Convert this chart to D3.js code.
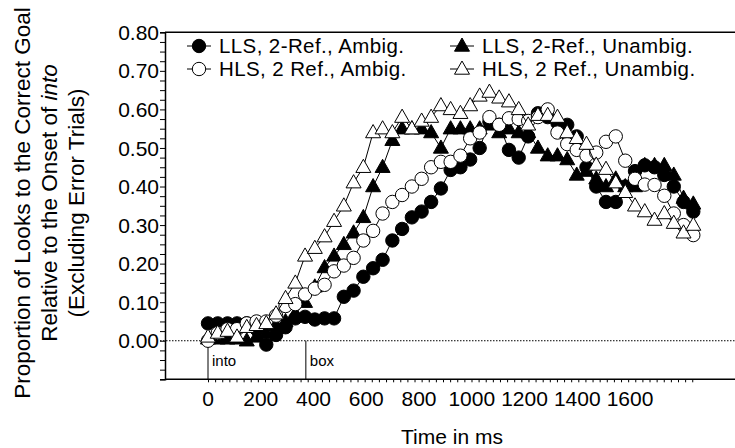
<!DOCTYPE html>
<html>
<head>
<meta charset="utf-8">
<script src="https://cdn.jsdelivr.net/npm/d3@7"></script>
<style>
  body { margin: 0; background: #fff; }
  svg { font-family: "Liberation Sans", Arial, sans-serif; }
</style>
</head>
<body>
<svg width="735" height="448"></svg>
<script>
// time bins (ms)
const times = [0, 37, 74, 110, 147, 184, 221, 258, 294, 331, 368, 405, 442, 478, 515, 552, 589, 626,
    662, 699, 736, 773, 810, 846, 883, 920, 957, 994, 1030, 1067, 1104, 1141, 1178, 1214, 1251, 1288,
    1325, 1362, 1398, 1435, 1472, 1509, 1546, 1582, 1619, 1656, 1693, 1730, 1766, 1803, 1840];

const llsAmbig = [0.045, 0.045, 0.045, 0.045, 0.045, 0.03, -0.01, 0.015, 0.035, 0.058, 0.062, 0.055,
    0.058, 0.058, 0.114, 0.13, 0.166, 0.188, 0.21, 0.26, 0.29, 0.32, 0.335, 0.36, 0.395, 0.443, 0.45,
    0.47, 0.50, 0.568, 0.56, 0.495, 0.475, 0.53, 0.59, 0.58, 0.565, 0.56, 0.53, 0.45, 0.40, 0.36, 0.36,
    0.40, 0.44, 0.455, 0.45, 0.43, 0.40, 0.36, 0.335];

const llsUnambig = [0.005, 0.005, 0.005, 0.005, 0.0, 0.01, 0.02, 0.04, 0.05, 0.07, 0.10, 0.14, 0.19,
    0.22, 0.25, 0.28, 0.32, 0.40, 0.45, 0.52, 0.55, 0.55, 0.55, 0.54, 0.50, 0.55, 0.55, 0.55, 0.55,
    0.56, 0.54, 0.55, 0.54, 0.54, 0.50, 0.48, 0.48, 0.47, 0.43, 0.44, 0.42, 0.40, 0.42, 0.40, 0.40,
    0.455, 0.455, 0.455, 0.43, 0.37, 0.355];

const hlsAmbig = [0.0, 0.02, 0.03, 0.03, 0.045, 0.05, 0.05, 0.065, 0.09, 0.095, 0.12, 0.135, 0.145,
    0.18, 0.195, 0.215, 0.26, 0.285, 0.33, 0.36, 0.378, 0.40, 0.42, 0.45, 0.464, 0.464, 0.48, 0.525,
    0.54, 0.58, 0.56, 0.577, 0.575, 0.57, 0.58, 0.60, 0.54, 0.51, 0.495, 0.48, 0.488, 0.516, 0.53,
    0.467, 0.42, 0.405, 0.404, 0.376, 0.33, 0.30, 0.274];

const hlsUnambig = [0.01, 0.02, 0.025, 0.01, 0.035, 0.04, 0.045, 0.07, 0.11, 0.15, 0.22, 0.24, 0.27,
    0.31, 0.35, 0.41, 0.45, 0.54, 0.55, 0.54, 0.58, 0.55, 0.57, 0.58, 0.61, 0.60, 0.59, 0.61, 0.635,
    0.645, 0.63, 0.62, 0.60, 0.56, 0.585, 0.585, 0.58, 0.54, 0.525, 0.51, 0.456, 0.445, 0.41, 0.385,
    0.35, 0.335, 0.313, 0.33, 0.305, 0.28, 0.30];

const yTicks = [0, 0.1, 0.2, 0.3, 0.4, 0.5, 0.6, 0.7, 0.8];
const xTicks = [0, 200, 400, 600, 800, 1000, 1200, 1400, 1600];
const wordOnsets = [{ t: 0, word: "into" }, { t: 371, word: "box" }];

const series = [
    { name: "LLS, 2-Ref., Ambig.", values: llsAmbig, shape: "circle", fill: "#000" },
    { name: "LLS, 2-Ref., Unambig.", values: llsUnambig, shape: "triangle", fill: "#000" },
    { name: "HLS, 2 Ref., Ambig.", values: hlsAmbig, shape: "circle", fill: "#fff" },
    { name: "HLS, 2 Ref., Unambig.", values: hlsUnambig, shape: "triangle", fill: "#fff" }
];

const svg = d3.select("svg");
const plotLeft = 165, plotTop = 32.3, plotBottom = 379.3, plotRight = 740;

const x = d3.scaleLinear().domain([0, 1600]).range([208, 630]);
const y = d3.scaleLinear().domain([-0.1, 0.8]).range([plotBottom, plotTop]);

const triPath = "M0,-8L7.5,5.2L-7.5,5.2Z";

function drawMarker(sel, s) {
    if (s.shape === "circle") {
        sel.append("circle").attr("r", 6.7);
    } else {
        sel.append("path").attr("d", triPath);
    }
    sel.selectAll("circle,path")
        .attr("fill", s.fill)
        .attr("stroke", "#000")
        .attr("stroke-width", 1);
}

// frame
svg.append("line").attr("x1", plotLeft).attr("x2", plotRight).attr("y1", plotTop).attr("y2", plotTop)
    .attr("stroke", "#000").attr("stroke-width", 1.5);

// zero reference line
svg.append("line").attr("x1", plotLeft - 5).attr("x2", plotRight).attr("y1", y(0)).attr("y2", y(0))
    .attr("stroke", "#000").attr("stroke-width", 1).attr("stroke-dasharray", "1.5,1.5");

// word onset markers
wordOnsets.forEach(w => {
    svg.append("line").attr("x1", x(w.t)).attr("x2", x(w.t))
        .attr("y1", y(0)).attr("y2", plotBottom)
        .attr("stroke", "#000").attr("stroke-width", 1);
    svg.append("text").attr("x", x(w.t) + 4).attr("y", 366)
        .attr("font-size", 15).text(w.word);
});

// y axis
const yAxis = svg.append("g").attr("transform", `translate(${plotLeft},0)`)
    .call(d3.axisLeft(y).tickValues(d3.range(-0.1, 0.8001, 0.025)).tickSize(5).tickFormat(""));
yAxis.select(".domain").attr("stroke-width", 1.5);
svg.append("g").selectAll("text").data(yTicks).join("text")
    .attr("x", plotLeft - 6).attr("y", d => y(d)).attr("dy", "0.36em")
    .attr("text-anchor", "end").attr("font-size", 21)
    .text(d => d.toFixed(2));

// x axis
const xAxis = svg.append("g").attr("transform", `translate(0,${plotBottom})`)
    .call(d3.axisBottom(x).tickValues(d3.range(0, 1850, 27)).tickSize(3).tickFormat(""));
xAxis.select(".domain").attr("d", `M${plotLeft},0H${plotRight}`).attr("stroke-width", 1.5);
svg.append("g").selectAll("text").data(xTicks).join("text")
    .attr("x", d => x(d)).attr("y", 406)
    .attr("text-anchor", "middle").attr("font-size", 21)
    .text(d => d);

svg.append("text").attr("x", 452).attr("y", 444).attr("text-anchor", "middle")
    .attr("font-size", 21).text("Time in ms");

// y title
const yTitle = svg.append("text").attr("transform", "translate(0,203) rotate(-90)")
    .attr("text-anchor", "middle").attr("font-size", 22.5);
yTitle.append("tspan").attr("x", 0).attr("y", 30).text("Proportion of Looks to the Correct Goal");
const l2 = yTitle.append("tspan").attr("x", 0).attr("y", 57);
l2.append("tspan").text("Relative to the Onset of ");
l2.append("tspan").attr("font-style", "italic").text("into");
yTitle.append("tspan").attr("x", 0).attr("y", 84).text("(Excluding Error Trials)");

// series
const line = d3.line().x(d => x(d[0])).y(d => y(d[1]));
series.forEach(s => {
    const pts = times.map((t, i) => [t, s.values[i]]);
    const g = svg.append("g");
    g.append("path").datum(pts).attr("d", line)
        .attr("fill", "none").attr("stroke", "#000").attr("stroke-width", 1);
    g.selectAll("g").data(pts).join("g")
        .attr("transform", d => `translate(${x(d[0])},${y(d[1])})`)
        .each(function () { drawMarker(d3.select(this), s); });
});

// legend
const legendPos = [[199, 46], [462, 46], [199, 69], [462, 69]];
series.forEach((s, k) => {
    const [lx, ly] = legendPos[k];
    const g = svg.append("g").attr("transform", `translate(${lx},${ly})`);
    g.append("line").attr("x1", -12).attr("x2", 12).attr("stroke", "#000").attr("stroke-width", 1);
    drawMarker(g, s);
    g.append("text").attr("x", 20).attr("dy", "0.36em").attr("font-size", 20.5)
        .attr("letter-spacing", 0.4).text(s.name);
});
</script>
</body>
</html>
